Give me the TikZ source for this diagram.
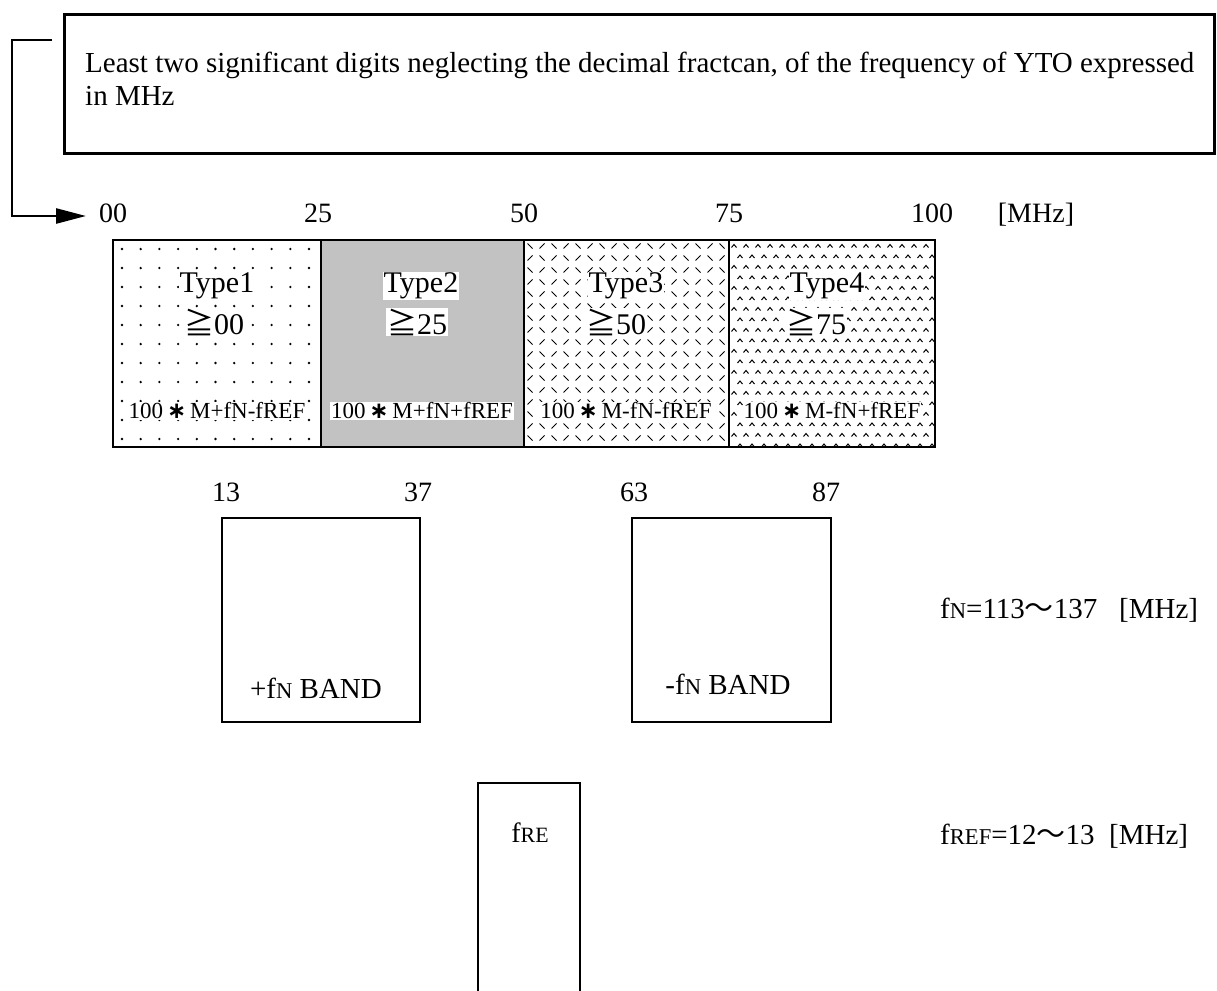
\documentclass[tikz,border=0pt]{standalone}
\usepackage{fontspec}
\setmainfont{Liberation Serif}
\newfontfamily\cjkf{Noto Sans CJK JP}
\newfontfamily\djvf{DejaVu Sans}
\usetikzlibrary{arrows.meta}
\newcommand{\smc}[1]{\scalebox{0.78}{#1}}
\newcommand{\gqq}{{\cjkf ≧}}
\newcommand{\wv}{{\cjkf 〜}}
\newcommand{\stx}{\,{\djvf\bfseries ∗}\,}
\begin{document}
\begin{tikzpicture}[x=1pt,y=-1pt,
  lbl/.style={inner sep=0pt, font=\fontsize{28}{30}\selectfont},
  typel/.style={inner sep=1pt, fill=white, font=\fontsize{30}{32}\selectfont},
  forml/.style={inner sep=1pt, fill=white, font=\fontsize{23}{25}\selectfont},
  bandbox/.style={draw, line width=2pt, inner sep=0pt, anchor=north west},
  pmark/.style={line width=1pt}]
\useasboundingbox (0,0) rectangle (1217,990);
% top box
\node[draw, line width=2.6pt, inner sep=0pt, anchor=north west,
      minimum width=1150pt, minimum height=139pt] (topbox) at (63,13) {};
\node[lbl, anchor=base west, font=\fontsize{29}{31}\selectfont] (t1) at (85,72) {Least two significant digits neglecting the decimal fractcan, of the frequency of YTO expressed};
\node[lbl, anchor=base west, font=\fontsize{29}{31}\selectfont] (t2) at (85,105) {in MHz};
% scale labels
\node[lbl, anchor=base] (l00) at (113,222) {00};
\node[lbl, anchor=base] (l25) at (318,222) {25};
\node[lbl, anchor=base] (l50) at (524,222) {50};
\node[lbl, anchor=base] (l75) at (729,222) {75};
\node[lbl, anchor=base] (l100) at (932,222) {100};
\node[lbl, anchor=base] (lmhz) at (1036,222) {[MHz]};
% bracket arrow
\coordinate (bs) at (52,40);
\coordinate (bc) at (12,40);
\coordinate (be) at (86,216);
\draw[line width=2.6pt, -{Triangle[length=30pt,width=15pt]}] (bs) -- (bc) |- (be);
% cell 1 dots
\begin{scope}
\clip (113,240) rectangle (321,447);
\foreach \i in {0,...,10} \foreach \j in {0,...,10}
  \fill (122+18.7*\i, 249+19*\j) circle (1.3);
\end{scope}
% cell 2 gray
\fill[black!24] (321,240) rectangle (524,447);
% cell 3 herringbone
\begin{scope}
\clip (524,240) rectangle (729,447);
\foreach \i in {0,...,17} \foreach \j in {0,...,17} {
  \pgfmathtruncatemacro\k{\i+\j}
  \ifodd\k
    \draw[pmark] (530+12*\i-2.5, 246+12*\j+2.5) -- ++(5,-5);
  \else
    \draw[pmark] (530+12*\i-2.5, 246+12*\j-2.5) -- ++(5,5);
  \fi
}
\end{scope}
% cell 4 carets
\begin{scope}
\clip (729,240) rectangle (935,447);
\foreach \j in {0,...,19} \foreach \i in {0,...,17} {
  \pgfmathsetmacro\xo{ifthenelse(mod(\j,2)==1,6,0)}
  \draw[pmark] (734+12*\i+\xo-2.5, 246+10.5*\j+1.5) -- ++(2.5,-3) -- ++(2.5,3);
}
\end{scope}
% band outline
\draw[line width=2pt] (113,240) rectangle (935,447);
\draw[line width=2pt] (321,240) -- (321,447);
\draw[line width=2pt] (524,240) -- (524,447);
\draw[line width=2pt] (729,240) -- (729,447);
% cell labels
\node[typel] (ty1) at (217,286) {Type1};
\node[typel] (ge1) at (214,322) {\gqq00};
\node[typel] (ty2) at (421,286) {Type2};
\node[typel] (ge2) at (417,322) {\gqq25};
\node[typel] (ty3) at (626,286) {Type3};
\node[typel] (ge3) at (616,322) {\gqq50};
\node[typel] (ty4) at (827,286) {Type4};
\node[typel] (ge4) at (816,322) {\gqq75};
\node[forml] (f1) at (217,411) {100\stx M+fN-fREF};
\node[forml] (f2) at (422,411) {100\stx M+fN+fREF};
\node[forml] (f3) at (626,411) {100\stx M-fN-fREF};
\node[forml] (f4) at (832,411) {100\stx M-fN+fREF};
% lower band labels
\node[lbl, anchor=base] (l13) at (226,501) {13};
\node[lbl, anchor=base] (l37) at (418,501) {37};
\node[lbl, anchor=base] (l63) at (634,501) {63};
\node[lbl, anchor=base] (l87) at (826,501) {87};
\node[bandbox, minimum width=198pt, minimum height=204pt] (pband) at (221,517) {};
\node[bandbox, minimum width=199pt, minimum height=204pt] (mband) at (631,517) {};
\node[lbl, anchor=base, font=\fontsize{29}{31}\selectfont] (pbt) at (316,698) {+f\smc{N} BAND};
\node[lbl, anchor=base, font=\fontsize{29}{31}\selectfont] (mbt) at (728,694) {-f\smc{N} BAND};
\node[lbl, anchor=base west, font=\fontsize{29}{31}\selectfont] (fnl) at (940,618) {f\smc{N}=113\wv 137\ \ \ [MHz]};
% fref box
\draw[line width=2pt] (478,1000) |- (580,783) -- (580,1000);
\node[lbl, anchor=base, font=\fontsize{28}{30}\selectfont] (fre) at (530,842) {f\smc{RE}};
\node[lbl, anchor=base west, font=\fontsize{29}{31}\selectfont] (frefl) at (940,844) {f\smc{REF}=12\wv 13\ \ [MHz]};
\end{tikzpicture}
\end{document}
